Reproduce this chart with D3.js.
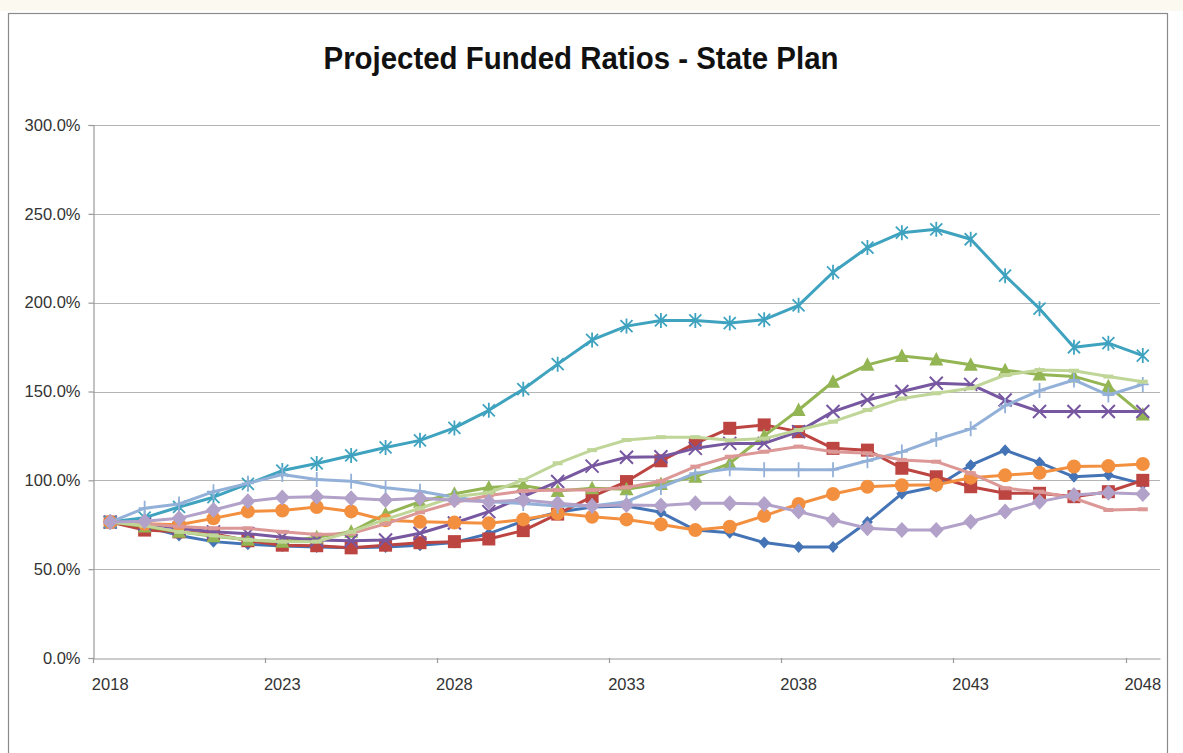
<!DOCTYPE html>
<html><head><meta charset="utf-8">
<script src="https://cdn.jsdelivr.net/npm/d3@7"></script>
<style>body{margin:0;background:#fff;} svg{display:block;}</style>
</head><body><svg id="c" width="1183" height="753"></svg>
<script>
const years = [2018,2019,2020,2021,2022,2023,2024,2025,2026,2027,2028,2029,2030,2031,2032,2033,2034,2035,2036,2037,2038,2039,2040,2041,2042,2043,2044,2045,2046,2047,2048];
const xTickLabels = [2018,2023,2028,2033,2038,2043,2048];
const yTickValues = [0,50,100,150,200,250,300];

const blueDiamond   = [76.5,74,69,65.5,64,63,62.5,62,62.5,63.5,65,70,77,82,85,85.5,82,72,70.5,65,62.5,62.5,76.5,92.5,96.5,108.5,117,110,102,103,98];
const redSquare     = [76.5,72,71,70,66,63.5,63.2,62,63.5,64.9,65.5,67,71.7,81,90.8,99.3,111,120.8,129.3,131.2,127.4,118,117,106.8,102,96.4,92.7,92.7,90.8,93.6,100];
const greenTriangle = [76.5,74,71,68.5,66.5,65.5,68,71,81,88,92.5,96,97,94,95.5,95,98,102,109.6,125,139.6,155.5,165,170,168,165,162,159.5,158.5,153,137];
const purpleX       = [76.5,75.5,73,71,70,68,66.4,66,66.4,70.2,76,82.4,90.8,99.3,108,113,113.3,118,120.8,120.8,127.4,138.7,145.2,150,154.6,154,145.2,138.7,138.7,138.7,138.7];
const tealStar      = [76.5,79,85,90.5,98,105.5,109.5,114,118.5,122.5,129.5,139.4,151.3,165.4,179,186.8,190,190,188.5,190.4,198.5,217.1,231,239.4,241.3,235.7,215.2,196.6,174.9,177.2,170.2];
const orangeCircle  = [76.5,75.5,75,78.6,82.5,83,85,82.5,77.5,76.7,76.2,75.8,78,81.4,79.5,78,75.2,72,73.9,80,86.7,92.3,96.4,97.2,97.5,101.5,102.8,104.3,107.8,108,109.2];
const lightBluePlus = [76.5,84.3,86.7,93.6,98.3,103.3,100.5,99.5,95.8,93.8,90.5,88,87,85.5,85.6,88,96,104,106.5,106,106,106,111,116,123,129,142,150.5,156.5,148,154];
const pinkDash      = [76.5,75.5,74,73,73,71,69.5,70,75.5,82,87.5,91.5,94,94.5,94.5,96,99.5,107.7,113.3,116.1,119,116.1,115.2,111.5,110.5,104,95.5,93.6,89.9,83.3,83.7];
const lightGreenDash= [76.5,74.5,71,69,66.5,65.5,65.5,71,78,84.3,90.8,93,100.2,109.6,117,122.7,124.3,124.3,122.5,123.5,128.3,133,139.6,146,149,151.8,159.3,162.1,161.7,158.4,155.5];
const lilacDiamond  = [76.5,77,78.6,83.3,88.2,90.3,90.8,89.9,88.9,89.9,88.8,88,88.9,87.1,85.6,86.1,85.8,87.1,87.1,86.7,82.4,77.7,73,72,72,76.7,82.4,88,91.8,93,92.3];

const series = [
  {values: blueDiamond,    color: "#4474b5", marker: "diamondS"},
  {values: redSquare,      color: "#bc4441", marker: "square"},
  {values: greenTriangle,  color: "#93b553", marker: "triangle"},
  {values: purpleX,        color: "#7757a0", marker: "x"},
  {values: tealStar,       color: "#3fa3bf", marker: "star"},
  {values: orangeCircle,   color: "#f39040", marker: "circle"},
  {values: lightBluePlus,  color: "#93b1d8", marker: "plus"},
  {values: pinkDash,       color: "#dc9896", marker: "dash"},
  {values: lightGreenDash, color: "#c0d698", marker: "dash"},
  {values: lilacDiamond,   color: "#b2a1c8", marker: "diamondL"}
];

const svg = d3.select("#c");
const W = 1183, H = 753;
const plot = {left: 93, right: 1160, top: 125, bottom: 658};

svg.append("rect").attr("x",0).attr("y",0).attr("width",W).attr("height",H).attr("fill","#fff");
svg.append("rect").attr("x",0).attr("y",0).attr("width",W).attr("height",11).attr("fill","#fcfaf0");
svg.append("rect").attr("x",8.5).attr("y",13.5).attr("width",1159).attr("height",760)
  .attr("fill","#fff").attr("stroke","#8a8a8a").attr("stroke-width",1.2);

const x = d3.scaleBand().domain(years).range([plot.left, plot.right]).paddingInner(0).paddingOuter(0);
const y = d3.scaleLinear().domain([0,300]).range([plot.bottom, plot.top]);
const cx = d => x(d) + x.bandwidth()/2;

// gridlines
svg.append("g").selectAll("line").data(yTickValues.filter(v=>v>0)).join("line")
  .attr("x1", plot.left).attr("x2", plot.right)
  .attr("y1", d=>Math.round(y(d))+0.5).attr("y2", d=>Math.round(y(d))+0.5)
  .attr("stroke","#b4b4b4").attr("stroke-width",1.2);

// y axis
const yAxis = svg.append("g").attr("transform",`translate(${plot.left+0.5},0)`)
  .call(d3.axisLeft(y).tickValues(yTickValues).tickSize(5).tickPadding(8).tickFormat(d=>d.toFixed(1)+"%"));
yAxis.select(".domain").attr("stroke","#9a9a9a").attr("stroke-width",1.2);
yAxis.selectAll(".tick line").attr("stroke","#9a9a9a").attr("stroke-width",1.2);
yAxis.selectAll("text").attr("font-family","'Liberation Sans', Arial, sans-serif").attr("font-size",16.5).attr("fill","#333");

// x axis
const xAxis = svg.append("g").attr("transform",`translate(0,${plot.bottom+0.5})`)
  .call(d3.axisBottom(x).tickValues(xTickLabels).tickSize(0).tickPadding(20));
xAxis.select(".domain").attr("stroke","#9a9a9a").attr("stroke-width",1.2);
xAxis.selectAll("text").attr("font-family","'Liberation Sans', Arial, sans-serif").attr("font-size",16.5).attr("fill","#333");
svg.append("g").selectAll("line").data(xTickLabels).join("line")
  .attr("x1", d=>Math.round(x(d))+0.5).attr("x2", d=>Math.round(x(d))+0.5)
  .attr("y1", plot.bottom).attr("y2", plot.bottom+5)
  .attr("stroke","#9a9a9a").attr("stroke-width",1.2);

// title
svg.append("text").attr("x",581).attr("y",69).attr("text-anchor","middle")
  .attr("font-family","'Liberation Sans Narrow','Liberation Sans', Arial, sans-serif")
  .attr("font-weight","bold").attr("font-size",31).attr("fill","#111")
  .attr("textLength",515).attr("lengthAdjust","spacingAndGlyphs")
  .text("Projected Funded Ratios - State Plan");

const line = d3.line().x((d,i)=>cx(years[i])).y(d=>y(d));

function drawMarker(g, type, color){
  switch(type){
    case "diamondS": g.append("path").attr("d","M0,-6L5.5,0L0,6L-5.5,0Z").attr("fill",color); break;
    case "diamondL": g.append("path").attr("d","M0,-8L7.5,0L0,8L-7.5,0Z").attr("fill",color); break;
    case "square": g.append("rect").attr("x",-6.5).attr("y",-6.5).attr("width",13).attr("height",13).attr("fill",color); break;
    case "triangle": g.append("path").attr("d","M0,-7.5L7,6L-7,6Z").attr("fill",color); break;
    case "circle": g.append("circle").attr("r",7).attr("fill",color); break;
    case "x": g.append("path").attr("d","M-6.5,-6.5L6.5,6.5M-6.5,6.5L6.5,-6.5").attr("stroke",color).attr("stroke-width",2); break;
    case "star": g.append("path").attr("d","M-6,-6L6,6M-6,6L6,-6M0,-7.5L0,7.5").attr("stroke",color).attr("stroke-width",1.8); break;
    case "plus": g.append("path").attr("d","M0,-7.5L0,7.5M-6,0L6,0").attr("stroke",color).attr("stroke-width",1.8); break;
    case "dash": g.append("path").attr("d","M-5,0L5,0").attr("stroke",color).attr("stroke-width",4); break;
  }
}

series.forEach(s=>{
  const g = svg.append("g");
  g.append("path").datum(s.values).attr("d", line).attr("fill","none")
    .attr("stroke", s.color).attr("stroke-width",3).attr("stroke-linejoin","round");
  s.values.forEach((v,i)=>{
    const mg = g.append("g").attr("transform",`translate(${cx(years[i])},${y(v)})`);
    drawMarker(mg, s.marker, s.color);
  });
});
</script></body></html>
